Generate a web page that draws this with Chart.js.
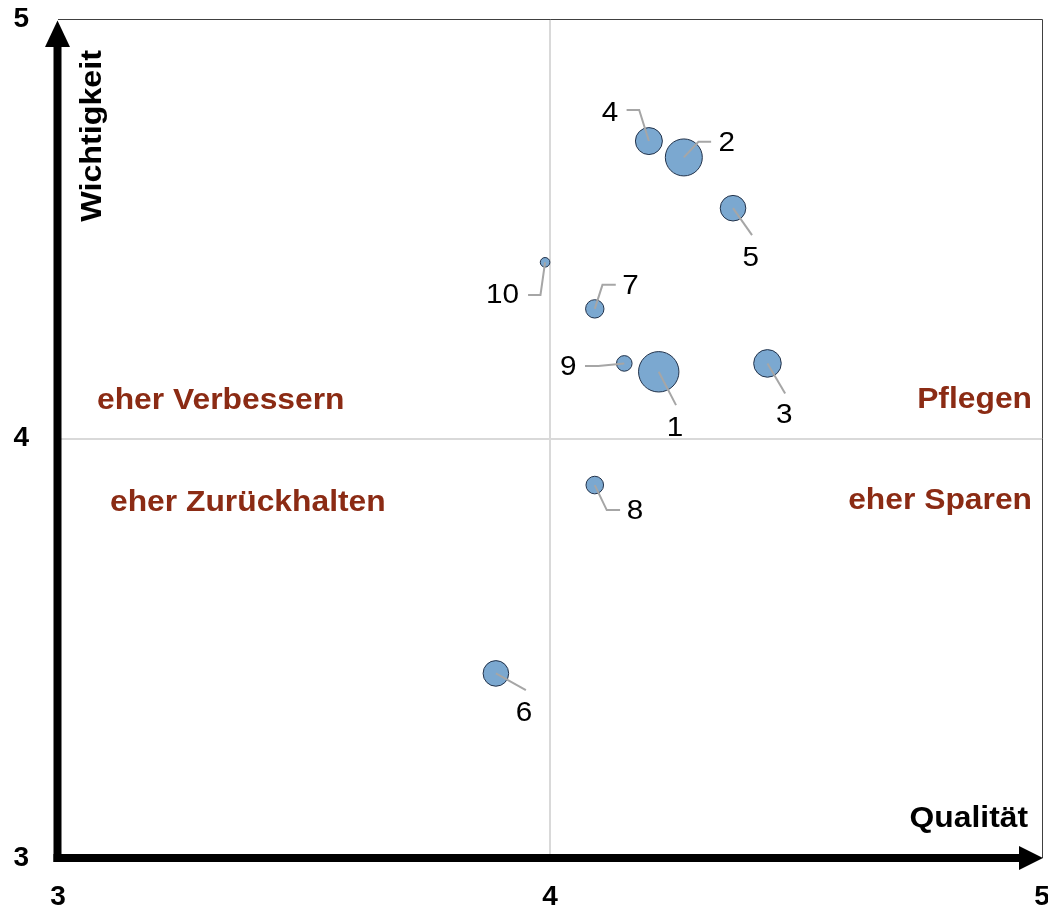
<!DOCTYPE html>
<html>
<head>
<meta charset="utf-8">
<script src="https://cdn.jsdelivr.net/npm/chart.js@4.4.1/dist/chart.umd.min.js"></script>
<style>
html,body{margin:0;padding:0;background:#fff;}
#wrap{width:1048px;height:908px;position:relative;}
</style>
</head>
<body>
<div id="wrap"><canvas id="c" width="1048" height="908"></canvas></div>
<script>
// ---- data ----
const categories = ['1','2','3','4','5','6','7','8','9','10'];
const qualitaet  = [4.221, 4.272, 4.442, 4.201, 4.372, 3.890, 4.091, 4.091, 4.151, 3.990];
const wichtigkeit = [4.159, 4.670, 4.179, 4.709, 4.549, 3.440, 4.309, 3.889, 4.179, 4.420];
const bubbleValue = [20.2, 18.5, 13.8, 13.5, 12.8, 12.8, 9.2, 8.8, 7.8, 4.8];
const xTickValues = [3, 4, 5];
const yTickValues = [3, 4, 5];
const xTitle = 'Qualität';
const yTitle = 'Wichtigkeit';
const quadrantLabels = ['eher Verbessern', 'Pflegen', 'eher Zurückhalten', 'eher Sparen'];

// ---- label placement (style) ----
const labelLayout = [
  {t:[16.3,56.3], l:[[17.3,33.3]]},
  {t:[43,-14],    l:[[14.6,-15.6],[27.3,-15.6]]},
  {t:[16.7,51.7], l:[[17.7,30]]},
  {t:[-39,-28],   l:[[-9.7,-31],[-22.3,-31]]},
  {t:[17.7,50.3], l:[[19,27]]},
  {t:[28,40],     l:[[30,16.7]]},
  {t:[35.7,-22.3],l:[[7.7,-24],[21,-24]]},
  {t:[40.3,26.7], l:[[12,25],[25.3,25]]},
  {t:[-56,3.4],   l:[[-26,2.7],[-39.3,2.7]]},
  {t:[-42.6,32.7],l:[[-4.6,32.7],[-17,32.7]]}
];

const FONT = '"Liberation Sans", Arial, sans-serif';
const SX = 1.06; // horizontal stretch of annotation text

const points = categories.map((c,i)=>({x:qualitaet[i], y:wichtigkeit[i], r:bubbleValue[i]}));

function stretchText(ctx, txt, x, y) {
  ctx.save();
  ctx.translate(x, y);
  ctx.scale(SX, 1);
  ctx.fillText(txt, 0, 0);
  ctx.restore();
}

const framePlugin = {
  id:'frame',
  beforeDatasetsDraw(chart){
    const {ctx, chartArea:a} = chart;
    ctx.save();
    ctx.strokeStyle = '#404040';
    ctx.lineWidth = 1;
    ctx.beginPath();
    ctx.moveTo(a.left, a.top+0.5);
    ctx.lineTo(a.right+0.5, a.top+0.5);
    ctx.lineTo(a.right+0.5, a.bottom);
    ctx.stroke();
    ctx.restore();
  },
  afterDatasetsDraw(chart){
    const {ctx, chartArea:a, scales} = chart;
    const meta = chart.getDatasetMeta(0);
    ctx.save();
    // leaders
    ctx.strokeStyle = '#A6A6A6';
    ctx.lineWidth = 2;
    meta.data.forEach((el,i)=>{
      const L = labelLayout[i];
      ctx.beginPath();
      ctx.moveTo(el.x, el.y);
      L.l.forEach(p=>ctx.lineTo(el.x+p[0], el.y+p[1]));
      ctx.stroke();
    });
    // labels
    ctx.fillStyle = '#000';
    ctx.font = '28px ' + FONT;
    ctx.textAlign = 'center';
    ctx.textBaseline = 'middle';
    meta.data.forEach((el,i)=>{
      const L = labelLayout[i];
      stretchText(ctx, categories[i], el.x+L.t[0], el.y+L.t[1]);
    });
    // quadrant labels
    const ymid = scales.y.getPixelForValue(4);
    ctx.fillStyle = '#8B2B14';
    ctx.font = 'bold 30px ' + FONT;
    ctx.textBaseline = 'alphabetic';
    ctx.textAlign = 'left';
    stretchText(ctx, quadrantLabels[0], a.left+39, ymid-30);
    stretchText(ctx, quadrantLabels[2], a.left+52, ymid+72);
    ctx.textAlign = 'right';
    stretchText(ctx, quadrantLabels[1], a.right-10, ymid-31);
    stretchText(ctx, quadrantLabels[3], a.right-10, ymid+70);
    // axis titles
    ctx.fillStyle = '#000';
    ctx.font = 'bold 30px ' + FONT;
    ctx.textAlign = 'right';
    stretchText(ctx, xTitle, a.right-14, a.bottom-31);
    ctx.save();
    ctx.translate(a.left+43, a.top+31);
    ctx.rotate(-Math.PI/2);
    ctx.scale(1.075, 1);
    ctx.textAlign = 'right';
    ctx.fillText(yTitle, 0, 0);
    ctx.restore();
    // axis arrows
    ctx.fillStyle = '#000';
    ctx.strokeStyle = '#000';
    ctx.lineWidth = 8;
    const ax = a.left - 0.5, ay = a.bottom;
    ctx.beginPath();
    ctx.moveTo(ax, ay+4);
    ctx.lineTo(ax, a.top+26);
    ctx.stroke();
    ctx.beginPath();
    ctx.moveTo(ax-4, ay);
    ctx.lineTo(a.right-22, ay);
    ctx.stroke();
    ctx.beginPath();
    ctx.moveTo(ax, a.top+1.5);
    ctx.lineTo(ax-12.5, a.top+28);
    ctx.lineTo(ax+12.5, a.top+28);
    ctx.closePath();
    ctx.fill();
    ctx.beginPath();
    ctx.moveTo(a.right+1, ay);
    ctx.lineTo(a.right-23, ay-12);
    ctx.lineTo(a.right-23, ay+12);
    ctx.closePath();
    ctx.fill();
    ctx.restore();
  }
};

const gridColor = c => (c.tick && c.tick.value === 4) ? '#D9D9D9' : 'rgba(0,0,0,0)';

new Chart(document.getElementById('c'), {
  type:'bubble',
  data:{
    datasets:[{
      data: points,
      backgroundColor:'#7BA8D0',
      borderColor:'#22324A',
      borderWidth:1,
      hoverRadius:0,
      clip:false
    }]
  },
  options:{
    responsive:false,
    animation:false,
    events:[],
    layout:{autoPadding:false, padding:{top:19, right:6, left:0, bottom:0}},
    plugins:{legend:{display:false}, tooltip:{enabled:false}},
    scales:{
      x:{
        type:'linear', min:3, max:5,
        afterBuildTicks: s => { s.ticks = xTickValues.map(v=>({value:v})); },
        afterFit: s => { s.height = 50; s.paddingLeft = 0; s.paddingRight = 0; },
        border:{display:false},
        grid:{color:gridColor, lineWidth:2, drawTicks:false},
        ticks:{padding:22, color:'#000', font:{family:FONT, size:28, weight:'bold'}, maxRotation:0, autoSkip:false}
      },
      y:{
        type:'linear', min:3, max:5,
        afterBuildTicks: s => { s.ticks = yTickValues.map(v=>({value:v})); },
        afterFit: s => { s.width = 58; s.paddingTop = 0; s.paddingBottom = 0; },
        border:{display:false},
        grid:{color:gridColor, lineWidth:2, drawTicks:false},
        ticks:{padding:29, color:'#000', font:{family:FONT, size:28, weight:'bold'}, autoSkip:false}
      }
    }
  },
  plugins:[framePlugin]
});
</script>
</body>
</html>
